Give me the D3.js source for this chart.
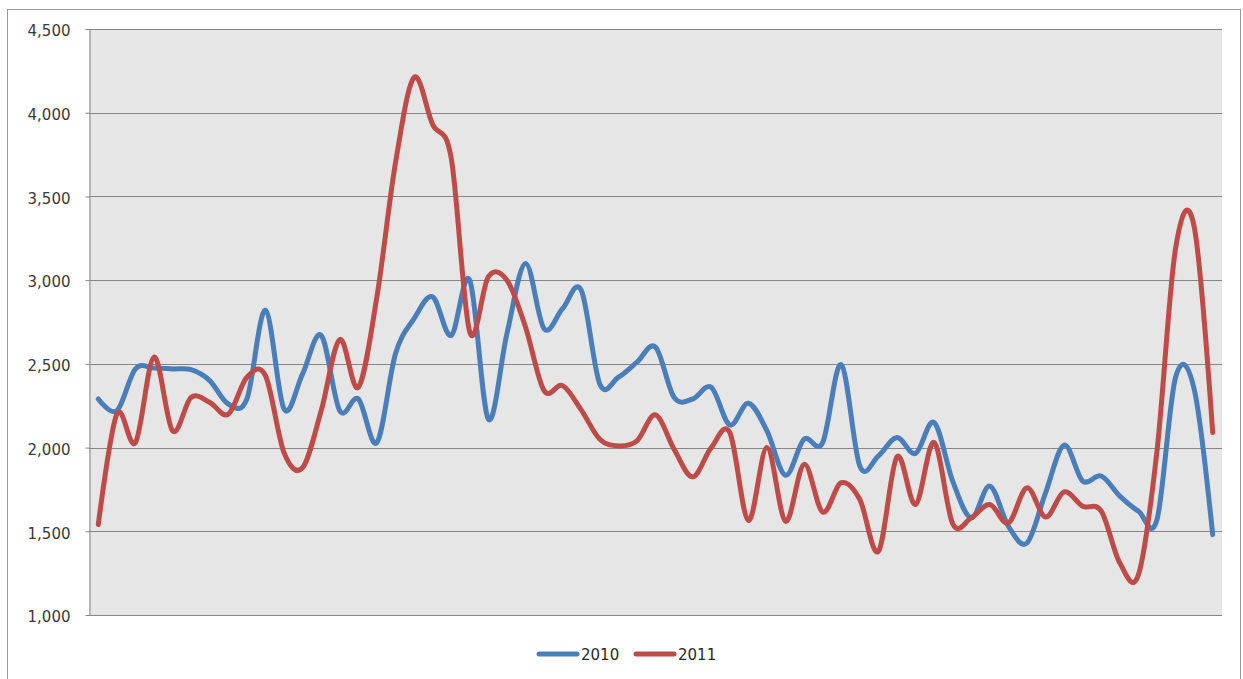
<!DOCTYPE html>
<html>
<head>
<meta charset="utf-8">
<script src="https://cdn.jsdelivr.net/npm/d3@7"></script>
<style>
  html, body { margin: 0; padding: 0; background: #ffffff; }
  svg { display: block; }
</style>
</head>
<body>
<svg id="chart" width="1243" height="679"></svg>
<script>
// Weekly counts, two years compared
const weeks = d3.range(1, 62);

const series2010 = [
  2290, 2220, 2470, 2475, 2470, 2465, 2400, 2260, 2290, 2820,
  2230, 2440, 2670, 2220, 2290, 2030, 2560, 2770, 2900, 2670,
  3000, 2170, 2680, 3100, 2710, 2830, 2940, 2380, 2420, 2510,
  2600, 2300, 2290, 2360, 2135, 2265, 2100, 1835, 2050, 2030,
  2495, 1890, 1950, 2060, 1965, 2150, 1800, 1580, 1770, 1530,
  1430, 1730, 2015, 1800, 1830, 1710, 1620, 1570, 2420, 2350,
  1480
];

const series2011 = [
  1540, 2200, 2030, 2540, 2100, 2300, 2270, 2200, 2420, 2430,
  1970, 1880, 2220, 2645, 2360, 2900, 3700, 4210, 3930, 3730,
  2690, 3020, 3000, 2720, 2340, 2370, 2225, 2050, 2010, 2040,
  2195, 1990, 1825, 2000, 2090, 1565, 2000, 1560, 1900, 1615,
  1790, 1690, 1380, 1945, 1660, 2030, 1545, 1580, 1660, 1550,
  1760, 1585, 1735, 1650, 1620, 1310, 1240, 1980, 3190, 3320,
  2090
];

const yTicks = [1000, 1500, 2000, 2500, 3000, 3500, 4000, 4500];
const seriesNames = ["2010", "2011"];
const seriesColors = ["#4A7EBB", "#BE4B48"];

const svg = d3.select("#chart");
const font = "'DejaVu Sans', Verdana, sans-serif";

// outer chart frame
svg.append("rect")
  .attr("x", 7.5).attr("y", 9.5)
  .attr("width", 1233).attr("height", 690)
  .attr("fill", "#ffffff")
  .attr("stroke", "#9a9a9a")
  .attr("stroke-width", 1);

const plot = { left: 89, right: 1222, top: 29, bottom: 615 };

const x = d3.scalePoint()
  .domain(weeks)
  .range([plot.left, plot.right])
  .padding(0.5);

const y = d3.scaleLinear()
  .domain([1000, 4500])
  .range([plot.bottom, plot.top]);

// plot background
svg.append("rect")
  .attr("x", plot.left).attr("y", plot.top)
  .attr("width", plot.right - plot.left)
  .attr("height", plot.bottom - plot.top)
  .attr("fill", "#e6e6e6");

// horizontal gridlines
svg.append("g")
  .selectAll("line")
  .data(yTicks)
  .join("line")
  .attr("x1", plot.left).attr("x2", plot.right)
  .attr("y1", d => Math.round(y(d)) + 0.5)
  .attr("y2", d => Math.round(y(d)) + 0.5)
  .attr("stroke", "#878787")
  .attr("stroke-width", 1);

// y axis
const yAxis = d3.axisLeft(y)
  .tickValues(yTicks)
  .tickFormat(d3.format(","))
  .tickSize(4)
  .tickSizeOuter(0)
  .tickPadding(15);

const gy = svg.append("g")
  .attr("transform", `translate(${plot.left + 0.5},0)`)
  .call(yAxis);
gy.select(".domain").attr("stroke", "#878787");
gy.selectAll(".tick line").attr("stroke", "#878787");
gy.selectAll(".tick text")
  .attr("fill", "#3a3a3a")
  .attr("dy", "0.45em")
  .style("font-family", font)
  .style("font-size", "15px");

// bottom axis line
svg.append("line")
  .attr("x1", plot.left).attr("x2", plot.right)
  .attr("y1", plot.bottom + 0.5).attr("y2", plot.bottom + 0.5)
  .attr("stroke", "#878787");

// smoothed lines
const line = d3.line()
  .x((d, i) => x(weeks[i]))
  .y(d => y(d))
  .curve(d3.curveCardinal.tension(0));

[series2010, series2011].forEach((s, k) => {
  svg.append("path")
    .datum(s)
    .attr("d", line)
    .attr("fill", "none")
    .attr("stroke", seriesColors[k])
    .attr("stroke-width", 5)
    .attr("stroke-linejoin", "round")
    .attr("stroke-linecap", "round");
});

// legend
const legend = svg.append("g");
const legendItems = [
  { name: seriesNames[0], color: seriesColors[0], x: 539 },
  { name: seriesNames[1], color: seriesColors[1], x: 636 }
];
legendItems.forEach(it => {
  legend.append("line")
    .attr("x1", it.x).attr("x2", it.x + 38)
    .attr("y1", 654).attr("y2", 654)
    .attr("stroke", it.color)
    .attr("stroke-width", 5)
    .attr("stroke-linecap", "round");
  legend.append("text")
    .attr("x", it.x + 42)
    .attr("y", 660)
    .attr("fill", "#2a2a2a")
    .style("font-family", font)
    .style("font-size", "15px")
    .text(it.name);
});
</script>
</body>
</html>
